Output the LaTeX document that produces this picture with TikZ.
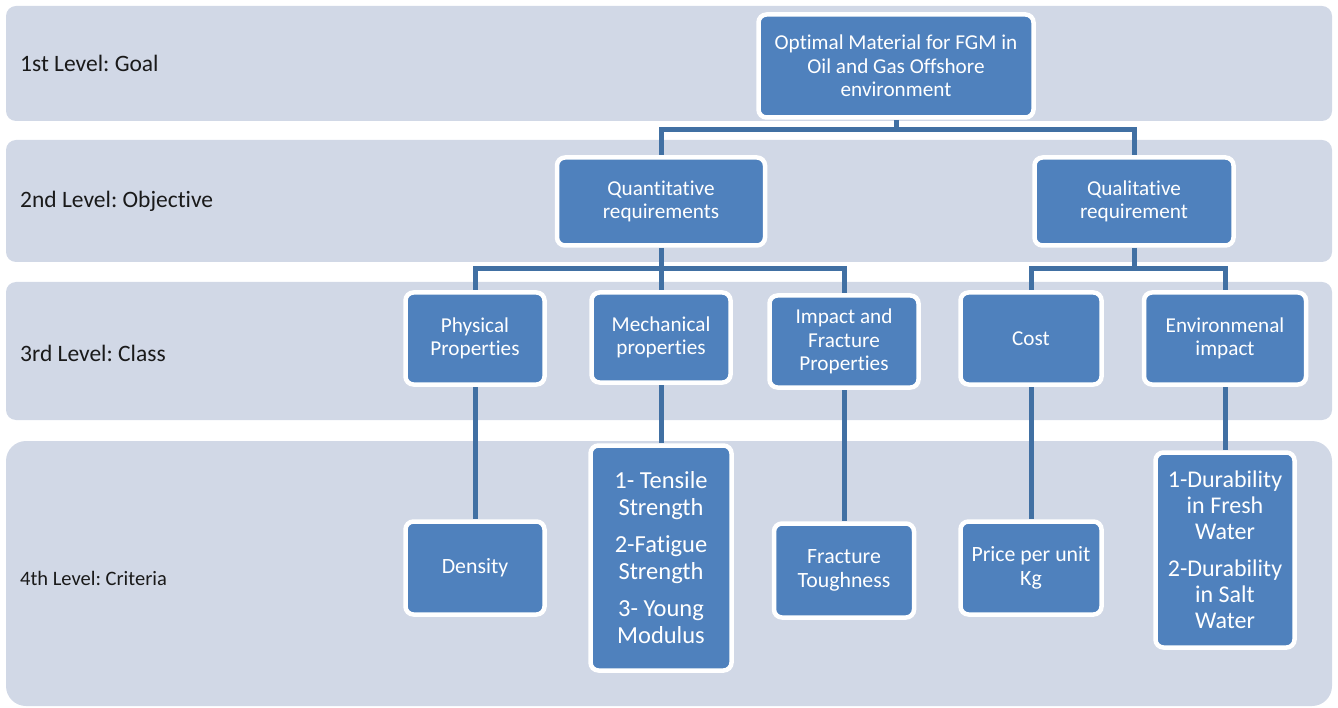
\documentclass[tikz,border=0pt]{standalone}
\usepackage{fontspec}
\setmainfont[Ligatures={NoCommon}]{Carlito}
\frenchspacing
\usetikzlibrary{backgrounds}
\definecolor{bandcol}{HTML}{D1D8E6}
\definecolor{boxblue}{HTML}{4F81BD}
\definecolor{linecol}{HTML}{4170A3}
\definecolor{labcol}{HTML}{1A1A1A}
\tikzset{
  band/.style={fill=bandcol, draw=none, rounded corners=10pt},
  bandlabel/.style={anchor=west, text=labcol, inner sep=0pt, font=\fontsize{23.5}{27}\selectfont},
  box/.style={fill=boxblue, draw=white, line width=4.5pt, rounded corners=8pt, text=white, align=center, inner sep=0pt, font=\fontsize{21.2}{23.3}\selectfont},
  boxfour/.style={box, font=\fontsize{21.8}{24}\selectfont},
  conn/.style={draw=linecol, line width=5pt}
}
\begin{document}
\begin{tikzpicture}[x=1pt,y=-1pt]
\useasboundingbox (0,0) rectangle (1338,708);
% level bands
\begin{scope}[on background layer]
\fill[band] (6,6) rectangle (1332,121);
\fill[band] (6,140) rectangle (1332,262);
\fill[band] (6,282) rectangle (1332,420);
\fill[band, rounded corners=20pt] (6,441) rectangle (1332,706);
\end{scope}
\node[bandlabel] (l1) at (20,63) {1st Level: Goal};
\node[bandlabel] (l2) at (20,201) {2nd Level: Objective};
\node[bandlabel] (l3) at (20,353) {3rd Level: Class};
\node[bandlabel, font=\fontsize{20.5}{24}\selectfont] (l4) at (20,578) {4th Level: Criteria};
% level 1
\node[box, minimum width=275pt, minimum height=103pt] (goal) at (896,66) {Optimal Material for FGM in\\Oil and Gas Offshore\\environment};
% level 2
\node[box, minimum width=208pt, minimum height=88pt] (quant) at (661,201.5) {Quantitative\\requirements};
\node[box, minimum width=199pt, minimum height=88pt] (qual) at (1134,201.5) {Qualitative\\requirement};
% level 3
\node[box, minimum width=139pt, minimum height=92pt] (phys) at (475,338.5) {Physical\\Properties};
\node[box, minimum width=139pt, minimum height=90pt] (mech) at (661,337.5) {Mechanical\\properties};
\node[box, minimum width=149pt, minimum height=92pt] (impact) at (844,341.5) {Impact and\\Fracture\\Properties};
\node[box, minimum width=141pt, minimum height=92pt] (cost) at (1031,338.5) {Cost};
\node[box, minimum width=162pt, minimum height=92pt] (env) at (1225,338.5) {Environmenal\\impact};
% level 4
\node[boxfour, minimum width=139pt, minimum height=93pt] (dens) at (475,568) {Density};
\node[box, font=\fontsize{24.5}{27}\selectfont, minimum width=141pt, minimum height=225pt] (mfour) at (661,558) {1- Tensile\\Strength\\[10pt]2-Fatigue\\Strength\\[10pt]3- Young\\Modulus};
\node[boxfour, minimum width=140pt, minimum height=94pt] (frac) at (844,570.5) {Fracture\\Toughness};
\node[boxfour, minimum width=141pt, minimum height=93pt] (price) at (1031,568) {Price per unit\\Kg};
\node[box, font=\fontsize{24}{26}\selectfont, minimum width=139pt, minimum height=195pt] (dur) at (1225,550) {1-Durability\\in Fresh\\Water\\[11pt]2-Durability\\in Salt\\Water};
% junctions
\coordinate (j1) at (896,130);
\coordinate (j2) at (661,269);
\coordinate (j3) at (1134,269);
% connectors
\begin{scope}[on background layer]
\draw[conn] (goal.south) -- (j1);
\draw[conn] (j1) -| (quant.north);
\draw[conn] (j1) -| (qual.north);
\draw[conn] (quant.south) -- (j2);
\draw[conn] (j2) -| (phys.north);
\draw[conn] (j2) -- (mech.north);
\draw[conn] (j2) -| (impact.north);
\draw[conn] (qual.south) -- (j3);
\draw[conn] (j3) -| (cost.north);
\draw[conn] (j3) -| (env.north);
\draw[conn] (phys.south) -- (dens.north);
\draw[conn] (mech.south) -- (mfour.north);
\draw[conn] (impact.south) -- (frac.north);
\draw[conn] (cost.south) -- (price.north);
\draw[conn] (env.south) -- (dur.north);
\end{scope}
\end{tikzpicture}
\end{document}
